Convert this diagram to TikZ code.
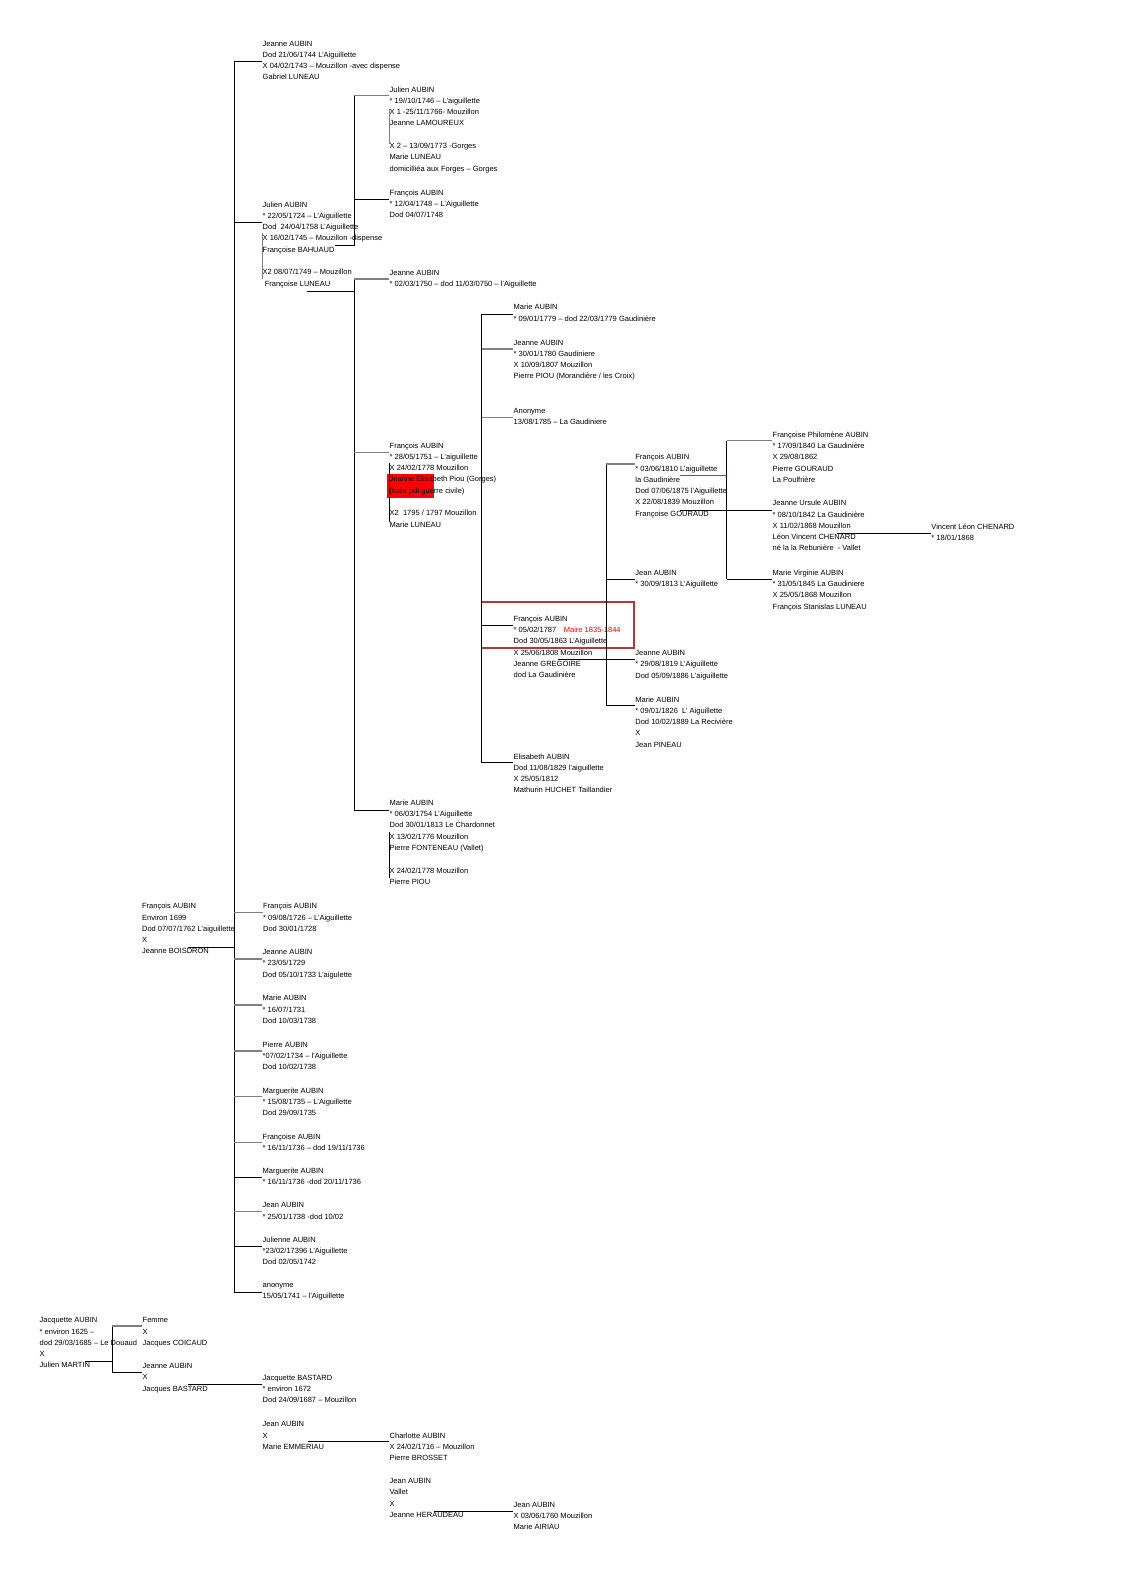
\documentclass[tikz,border=0pt]{standalone}
\usepackage{fontspec}
\setmainfont{Liberation Sans}
\usetikzlibrary{positioning}
\definecolor{linegray}{HTML}{7F7F7F}
\definecolor{mairered}{HTML}{FF0000}
\definecolor{framered}{HTML}{B03A3A}
\tikzset{
  person/.style={anchor=north west, inner sep=0pt, align=left,
    font=\fontsize{4}{6}\selectfont},
  tie/.style={line width=0.5pt, color=black},
  greytie/.style={line width=0.8pt, color=linegray},
  redtie/.style={line width=0.5pt, color=framered},
}

\begin{document}
\begin{tikzpicture}[x=0.187mm, y=-0.187mm]
\useasboundingbox (0,0) rectangle (1123,1588);

% highlights
\fill[mairered] (387.3,474) rectangle (434,498.3);
\draw[framered, line width=0.6pt] (481.7,602) rectangle (634,648);

% generation of Julien AUBIN
\node[person] (jeanne44) at (262.3,40.6) {Jeanne AUBIN\\Dod 21/06/1744 L'Aiguillette\\X 04/02/1743 – Mouzillon -avec dispense\\Gabriel LUNEAU};
\node[person] (julien46) at (389.3,86.3) {Julien AUBIN\\{*} 19//10/1746 – L'aiguillette\\X 1 -25/11/1766- Mouzillon\\Jeanne LAMOUREUX\\ \\X 2 – 13/09/1773 -Gorges\\Marie LUNEAU\\domicilliéa aux Forges – Gorges};
\node[person] (fr48) at (389.3,189.6) {François AUBIN\\{*} 12/04/1748 – L'Aiguillette\\Dod 04/07/1748};
\node[person] (julien24) at (262.3,201.3) {Julien AUBIN\\{*} 22/05/1724 – L'Aiguillette\\Dod\ \ 24/04/1758 L'Aiguillette\\X 16/02/1745 – Mouzillon -dispense\\Françoise BAHUAUD\\ \\X2 08/07/1749 – Mouzillon\\\ Françoise LUNEAU};
\node[person] (jeanne50) at (389.3,269.6) {Jeanne AUBIN\\{*} 02/03/1750 – dod 11/03/0750 – l'Aiguillette};
\node[person] (fr51) at (389.3,442.3) {François AUBIN\\{*} 28/05/1751 – L'aiguillette\\X 24/02/1778 Mouzillon\\Jeanne Elisabeth Piou (Gorges)\\(tuée pdt guerre civile)\\ \\X2\ \ 1795 / 1797 Mouzillon\\Marie LUNEAU};
\node[person] (marie54) at (389.3,799.6) {Marie AUBIN\\{*} 06/03/1754 L'Aiguillette\\Dod 30/01/1813 Le Chardonnet\\X 13/02/1776 Mouzillon\\Pierre FONTENEAU (Vallet)\\ \\X 24/02/1778 Mouzillon\\Pierre PIOU};

% children of François AUBIN 1751
\node[person] (marie79) at (513.3,304) {Marie AUBIN\\{*} 09/01/1779 – dod 22/03/1779 Gaudinière};
\node[person] (jeanne80) at (513.3,339.6) {Jeanne AUBIN\\{*} 30/01/1780 Gaudiniere\\X 10/09/1807 Mouzillon\\Pierre PIOU (Morandière / les Croix)};
\node[person] (anon85) at (513.3,408) {Anonyme\\13/08/1785 – La Gaudiniere};
\node[person] (fr87) at (513.3,615.6) {François AUBIN\\{*} 05/02/1787\quad{\color{mairered}Maire 1835-1844}\\Dod 30/05/1863 L'Aiguillette\\X 25/06/1808 Mouzillon\\Jeanne GREGOIRE\\dod La Gaudinière};
\node[person] (elis) at (513.3,753.3) {Elisabeth AUBIN\\Dod 11/08/1829 l'aiguillette\\X 25/05/1812\\Mathurin HUCHET Taillandier};

% children of François AUBIN 1787
\node[person] (fr10) at (635,454) {François AUBIN\\{*} 03/06/1810 L'aiguillette\\la Gaudinière\\Dod 07/06/1875 l'Aiguillette\\X 22/08/1839 Mouzillon\\Françoise GOURAUD};
\node[person] (jean13) at (635,569.6) {Jean AUBIN\\{*} 30/09/1813 L'Aiguillette};
\node[person] (jeanne19) at (635,650) {Jeanne AUBIN\\{*} 29/08/1819 L'Aiguillette\\Dod 05/09/1886 L'aiguillette};
\node[person] (marie26) at (635,696.3) {Marie AUBIN\\{*} 09/01/1826\ \ L' Aiguillette\\Dod 10/02/1889 La Recivière\\X\\Jean PINEAU};

% children of François AUBIN 1810
\node[person] (fp40) at (772.3,431.3) {Françoise Philomène AUBIN\\{*} 17/09/1840 La Gaudinière\\X 29/08/1862\\Pierre GOURAUD\\La Poulfrière};
\node[person] (ju42) at (772.3,500) {Jeanne Ursule AUBIN\\{*} 08/10/1842 La Gaudinière\\X 11/02/1868 Mouzillon\\Léon Vincent CHENARD\\né la la Rebunière\ \ - Vallet};
\node[person] (mv45) at (772.3,569.6) {Marie Virginie AUBIN\\{*} 31/05/1845 La Gaudiniere\\X 25/05/1868 Mouzillon\\François Stanislas LUNEAU};
\node[person] (vlc) at (931,523.3) {Vincent Léon CHENARD\\{*} 18/01/1868};

% François AUBIN 1699 and his children
\node[person] (fr99) at (141.7,903) {François AUBIN\\Environ 1699\\Dod 07/07/1762 L'aiguillette\\X\\Jeanne BOISDRON};
\node[person] (fr26) at (262.7,903) {François AUBIN\\{*} 09/08/1726 – L'Aiguillette\\Dod 30/01/1728};
\node[person] (jeanne29) at (262.3,949) {Jeanne AUBIN\\{*} 23/05/1729\\Dod 05/10/1733 L'aigulette};
\node[person] (marie31) at (262.3,995) {Marie AUBIN\\{*} 16/07/1731\\Dod 10/03/1738};
\node[person] (pierre34) at (262.3,1041.3) {Pierre AUBIN\\{*}07/02/1734 – l'Aiguillette\\Dod 10/02/1738};
\node[person] (marg35) at (262.3,1087.3) {Marguerite AUBIN\\{*} 15/08/1735 – L'Aiguillette\\Dod 29/09/1735};
\node[person] (fran36) at (262.3,1133.3) {Françoise AUBIN\\{*} 16/11/1736 – dod 19/11/1736};
\node[person] (marg36) at (262.3,1167.3) {Marguerite AUBIN\\{*} 16/11/1736 -dod 20/11/1736};
\node[person] (jean38) at (262.3,1202.3) {Jean AUBIN\\{*} 25/01/1738 -dod 10/02};
\node[person] (julienne) at (262.3,1236.3) {Julienne AUBIN\\{*}23/02/17396 L'Aiguillette\\Dod 02/05/1742};
\node[person] (anon41) at (262.3,1283) {anonyme\\15/05/1741 – l'Aiguillette};

% older branch
\node[person] (jacq25) at (39.3,1317.3) {Jacquette AUBIN\\{*} environ 1625 –\\dod 29/03/1685 – Le Douaud\\X\\Julien MARTIN};
\node[person] (femme) at (142.3,1317.3) {Femme\\X\\Jacques COICAUD};
\node[person] (jeanneB) at (142.3,1363) {Jeanne AUBIN\\X\\Jacques BASTARD};
\node[person] (jacqB) at (262.3,1374.6) {Jacquette BASTARD\\{*} environ 1672\\Dod 24/09/1687 – Mouzillon};
\node[person] (jeanE) at (262.3,1421.3) {Jean AUBIN\\X\\Marie EMMERIAU};
\node[person] (charl) at (389.3,1432.3) {Charlotte AUBIN\\X 24/02/1716 – Mouzillon\\Pierre BROSSET};
\node[person] (jeanV) at (389.3,1478) {Jean AUBIN\\Vallet\\X\\Jeanne HERAUDEAU};
\node[person] (jean60) at (513.3,1501.6) {Jean AUBIN\\X 03/06/1760 Mouzillon\\Marie AIRIAU};

% main spine
\coordinate (spineTop) at (234.3,61);
\draw[tie] (spineTop) -- (spineTop |- 0,1292.3);
\foreach \n/\y in {jeanne44/61, julien24/222.3, marg36/1177.3, julienne/1246.7, anon41/1292.3}
  \draw[tie] (spineTop |- 0,\y) -- (\n.west |- 0,\y);
\foreach \n/\y in {fr26/912.7, jeanne29/959, marie31/1005, pierre34/1051, marg35/1096.7, fran36/1142.7, jean38/1211.7}
  \draw[greytie] (spineTop |- 0,\y) -- (\n.west |- 0,\y);
\coordinate (fr99X) at (188.3,947.7);
\draw[tie] (fr99X) -- (spineTop |- fr99X);

% Julien AUBIN 1724, first marriage
\coordinate (julA) at (335,245);
\coordinate (barA) at (354.3,245);
\draw[tie] (julA) -- (barA) -- (barA |- 0,95.7);
\draw[greytie] (barA |- 0,95.7) -- (julien46.west |- 0,95.7);
\draw[tie] (barA |- 0,199) -- (fr48.west |- 0,199);

% Julien AUBIN 1724, second marriage
\coordinate (julB) at (307,291.7);
\coordinate (barB) at (354.3,291.7);
\draw[tie] (julB) -- (barB);
\draw[tie] (barB |- 0,279) -- (barB |- 0,810);
\draw[greytie] (barB |- 0,279) -- (jeanne50.west |- 0,279);
\draw[greytie] (barB |- 0,452.7) -- (fr51.west |- 0,452.7);
\draw[tie] (barB |- 0,810) -- (marie54.west |- 0,810);

% François AUBIN 1751
\coordinate (barC) at (481.7,314.3);
\draw[tie] (barC) -- (barC |- 0,762.7);
\foreach \n/\y in {marie79/314.3, fr87/625, elis/762.7}
  \draw[tie] (barC |- 0,\y) -- (\n.west |- 0,\y);
\foreach \n/\y in {jeanne80/349, anon85/417.7}
  \draw[greytie] (barC |- 0,\y) -- (\n.west |- 0,\y);

% François AUBIN 1787
\coordinate (fr87X) at (558,659.3);
\coordinate (barD) at (606,464);
\draw[tie] (barD) -- (barD |- 0,705.7);
\draw[tie] (fr87X) -- (jeanne19.west |- fr87X);
\draw[greytie] (barD) -- (fr10.west |- barD);
\foreach \n/\y in {jean13/579, marie26/705.7}
  \draw[tie] (barD |- 0,\y) -- (\n.west |- 0,\y);

% François AUBIN 1810
\coordinate (barE) at (726.7,440.7);
\coordinate (fr10X) at (680,510);
\coordinate (fr10R) at (680,475.7);
\draw[tie] (barE) -- (barE |- 0,579);
\draw[greytie] (barE) -- (fp40.west |- barE);
\draw[tie] (fr10X) -- (ju42.west |- fr10X);
\draw[redtie] (fr10R) -- (barE |- fr10R);
\draw[tie] (barE |- 0,579) -- (mv45.west |- 0,579);
\coordinate (juX) at (836.7,533.3);
\draw[tie] (juX) -- (vlc.west |- juX);

% marriages
\draw[greytie] (julien46.west |- 0,109) -- (julien46.west |- 0,144);
\draw[greytie] (julien24.west |- 0,233) -- (julien24.west |- 0,279);
\draw[tie] (fr51.west |- 0,463) -- (fr51.west |- 0,521.7);
\draw[tie] (marie54.west |- 0,831.7) -- (marie54.west |- 0,878);

% Jacquette AUBIN
\coordinate (jacX) at (85,1361.7);
\coordinate (barF) at (112.3,1326);
\draw[tie] (jacX) -- (barF |- jacX);
\draw[tie] (barF) -- (barF |- 0,1372.7);
\draw[greytie] (barF) -- (femme.west |- barF);
\draw[tie] (barF |- 0,1372.7) -- (jeanneB.west |- 0,1372.7);
\coordinate (jbX) at (187.7,1384.3);
\draw[tie] (jbX) -- (jacqB.west |- jbX);
\coordinate (jeX) at (307.7,1441.7);
\draw[tie] (jeX) -- (charl.west |- jeX);
\coordinate (jvX) at (434.3,1511);
\draw[tie] (jvX) -- (jean60.west |- jvX);
\end{tikzpicture}
\end{document}
